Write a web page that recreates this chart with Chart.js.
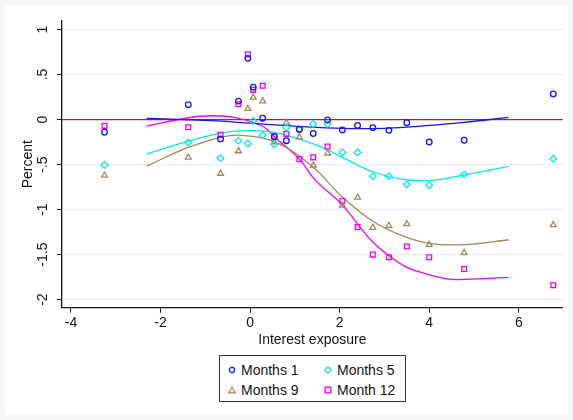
<!DOCTYPE html>
<html>
<head>
<meta charset="utf-8">
<script src="https://cdn.jsdelivr.net/npm/chart.js"></script>
<style>
  html, body { margin: 0; padding: 0; background: #f6f6f6; }
  #frame { position: absolute; left: 5px; top: 5px; width: 563px; height: 410px; background: #fff; }
  #wrap { position: absolute; left: 0; top: 0; width: 573px; height: 420px; }
  #legend {
    position: absolute; left: 219px; top: 355px; width: 185px; height: 45px;
    border: 1px solid #333; background: #fff;
    font-family: "Liberation Sans", Arial, sans-serif; font-size: 14px; color: #111;
  }
  .item { position: absolute; height: 18px; line-height: 18px; white-space: nowrap; }
  .item svg { position: absolute; left: 0; top: 5px; }
  .item span { position: absolute; left: 13px; top: 0; }
</style>
</head>
<body>
<div id="frame"></div>
<div id="wrap"><canvas id="chart"></canvas></div>
<div id="legend"></div>
<script>
// scatter: interest exposure (x) and effect in percent per horizon
const exposure = [-3.25, -1.38, -0.66, -0.26, -0.05, 0.07, 0.28, 0.54, 0.81, 1.10,
                  1.41, 1.73, 2.06, 2.40, 2.74, 3.10, 3.50, 4.00, 4.78, 6.77];
const months1 = [-0.14, 0.165, -0.215, 0.205, 0.68, 0.36, 0.015, -0.19, -0.235, -0.11,
                 -0.155, -0.005, -0.115, -0.065, -0.09, -0.12, -0.035, -0.25, -0.23, 0.285];
const months5 = [-0.505, -0.255, -0.43, -0.235, -0.265, -0.015, -0.175, -0.275, -0.09, -0.105,
                 -0.05, -0.05, -0.365, -0.365, -0.63, -0.63, -0.72, -0.73, -0.61, -0.435];
const months9 = [-0.62, -0.42, -0.60, -0.35, 0.12, 0.245, 0.205, -0.25, -0.035, -0.195,
                 -0.51, -0.375, -0.955, -0.865, -1.20, -1.18, -1.16, -1.39, -1.48, -1.17];
const month12 = [-0.07, -0.085, -0.17, 0.17, 0.725, 0.33, 0.375, -0.19, -0.16, -0.44,
                 -0.42, -0.30, -0.905, -1.195, -1.50, -1.53, -1.41, -1.53, -1.66, -1.84];

// fitted curves
const fit1X = [-2.31, -1.5, -0.75, 0, 0.75, 1.5, 2.25, 3, 3.5, 4.0, 4.78, 5.77];
const fit1Y = [0.013, 0.0, -0.015, -0.04, -0.065, -0.088, -0.10, -0.098, -0.085, -0.065, -0.031, 0.024];
const fit5X = [-2.31, -1.38, -0.66, -0.2, 0.5, 1.41, 2.06, 2.74, 3.35, 4.0, 4.78, 5.77];
const fit5Y = [-0.383, -0.24, -0.15, -0.125, -0.14, -0.27, -0.42, -0.58, -0.66, -0.678, -0.615, -0.52];
const fit9X = [-2.31, -1.38, -0.66, -0.2, 0.6, 1.41, 2.06, 2.74, 3.35, 4.0, 4.78, 5.77];
const fit9Y = [-0.517, -0.31, -0.198, -0.175, -0.26, -0.53, -0.86, -1.13, -1.28, -1.375, -1.39, -1.335];
const fit12X = [-2.31, -1.38, -0.9, -0.35, 0.3, 0.54, 1.1, 1.45, 2.06, 2.74, 3.35, 3.64, 4.39, 4.78, 5.77];
const fit12Y = [-0.072, 0.02, 0.042, 0.024, -0.08, -0.19, -0.44, -0.67, -0.95, -1.36, -1.6, -1.67, -1.77, -1.776, -1.753];

const xTicks = [-4, -2, 0, 2, 4, 6];
const yTicks = [-2, -1.5, -1, -0.5, 0, 0.5, 1];
const refLine = 0;

const seriesNames = ['Months 1', 'Months 5', 'Months 9', 'Month 12'];
const seriesColors = ['#1414ee', '#00e8f0', '#a08a55', '#f000f0'];
const seriesStyles = ['circle', 'rectRot', 'triangle', 'rect'];

function pts(xs, ys) {
  return xs.map((x, i) => ({ x: x, y: ys[i] }));
}

function fmtY(v) {
  if (v === 0) return '0';
  let s = String(v);
  return s.replace('0.', '.');
}

const scatterSets = [months1, months5, months9, month12].map((ys, i) => ({
  type: 'scatter',
  label: seriesNames[i],
  data: pts(exposure, ys),
  pointStyle: seriesStyles[i],
  pointRadius: seriesStyles[i] === 'circle' ? 2.8 : 3.4,
  borderColor: seriesColors[i],
  backgroundColor: 'rgba(0,0,0,0)',
  pointBorderWidth: 1.3,
  order: 1
}));

const fitSets = [[fit1X, fit1Y], [fit5X, fit5Y], [fit9X, fit9Y], [fit12X, fit12Y]].map((f, i) => ({
  type: 'line',
  label: seriesNames[i] + ' fit',
  data: pts(f[0], f[1]),
  borderColor: seriesColors[i],
  borderWidth: 1.3,
  pointRadius: 0,
  fill: false,
  tension: 0.4,
  order: 2
}));

const zeroLine = {
  id: 'zeroLine',
  beforeDatasetsDraw(chart) {
    const { ctx, chartArea, scales } = chart;
    const y = scales.y.getPixelForValue(refLine);
    ctx.save();
    ctx.strokeStyle = '#c0143c';
    ctx.lineWidth = 1.3;
    ctx.beginPath();
    ctx.moveTo(chartArea.left, y);
    ctx.lineTo(chartArea.right, y);
    ctx.stroke();
    ctx.restore();
  }
};

const font = { family: '"Liberation Sans", Arial, sans-serif', size: 14 };

new Chart(document.getElementById('chart'), {
  data: { datasets: fitSets.concat(scatterSets) },
  options: {
    responsive: true,
    maintainAspectRatio: false,
    animation: false,
    layout: { padding: { left: 19.6, right: 10.3, top: 20.7, bottom: 71.6 } },
    plugins: { legend: { display: false }, tooltip: { enabled: false } },
    scales: {
      x: {
        type: 'linear',
        min: -4.2,
        max: 6.98,
        afterBuildTicks: s => { s.ticks = xTicks.map(v => ({ value: v })); },
        afterFit: s => { s.height = 40.7; },
        grid: { drawOnChartArea: false, drawTicks: true, tickLength: 5, tickColor: '#111', tickWidth: 1 },
        border: { display: true, color: '#111', width: 1.3 },
        ticks: { color: '#111', font: font, padding: 2, maxRotation: 0 },
        title: { display: true, text: 'Interest exposure', color: '#111', font: font, padding: 0 }
      },
      y: {
        type: 'linear',
        min: -2.09,
        max: 1.098,
        afterBuildTicks: s => { s.ticks = yTicks.map(v => ({ value: v })); },
        afterFit: s => { s.width = 42.4; },
        grid: { color: '#e6eef0', lineWidth: 1, drawTicks: true, tickLength: 5, tickColor: '#111', tickWidth: 1 },
        border: { display: true, color: '#111', width: 1.3 },
        ticks: { color: '#111', font: font, padding: 2, minRotation: 90, maxRotation: 90, crossAlign: 'center', callback: v => fmtY(v) },
        title: { display: true, text: 'Percent', color: '#111', font: font, padding: 0 }
      }
    }
  },
  plugins: [zeroLine]
});

// legend in two columns, as in the original
const legendPos = [[8, 5], [104, 5], [8, 25], [104, 25]];
const markerSvg = [
  c => `<circle cx="4" cy="4" r="2.6" fill="none" stroke="${c}" stroke-width="1.3"/>`,
  c => `<polygon points="4,0.8 7.2,4 4,7.2 0.8,4" fill="none" stroke="${c}" stroke-width="1.3"/>`,
  c => `<polygon points="4,1 7.2,6.8 0.8,6.8" fill="none" stroke="${c}" stroke-width="1.2"/>`,
  c => `<rect x="1.2" y="1.2" width="5.6" height="5.6" fill="none" stroke="${c}" stroke-width="1.3"/>`
];
const legend = document.getElementById('legend');
seriesNames.forEach((name, i) => {
  const d = document.createElement('div');
  d.className = 'item';
  d.style.left = legendPos[i][0] + 'px';
  d.style.top = legendPos[i][1] + 'px';
  d.innerHTML = `<svg width="8" height="8">${markerSvg[i](seriesColors[i])}</svg><span>${name}</span>`;
  legend.appendChild(d);
});
</script>
</body>
</html>
